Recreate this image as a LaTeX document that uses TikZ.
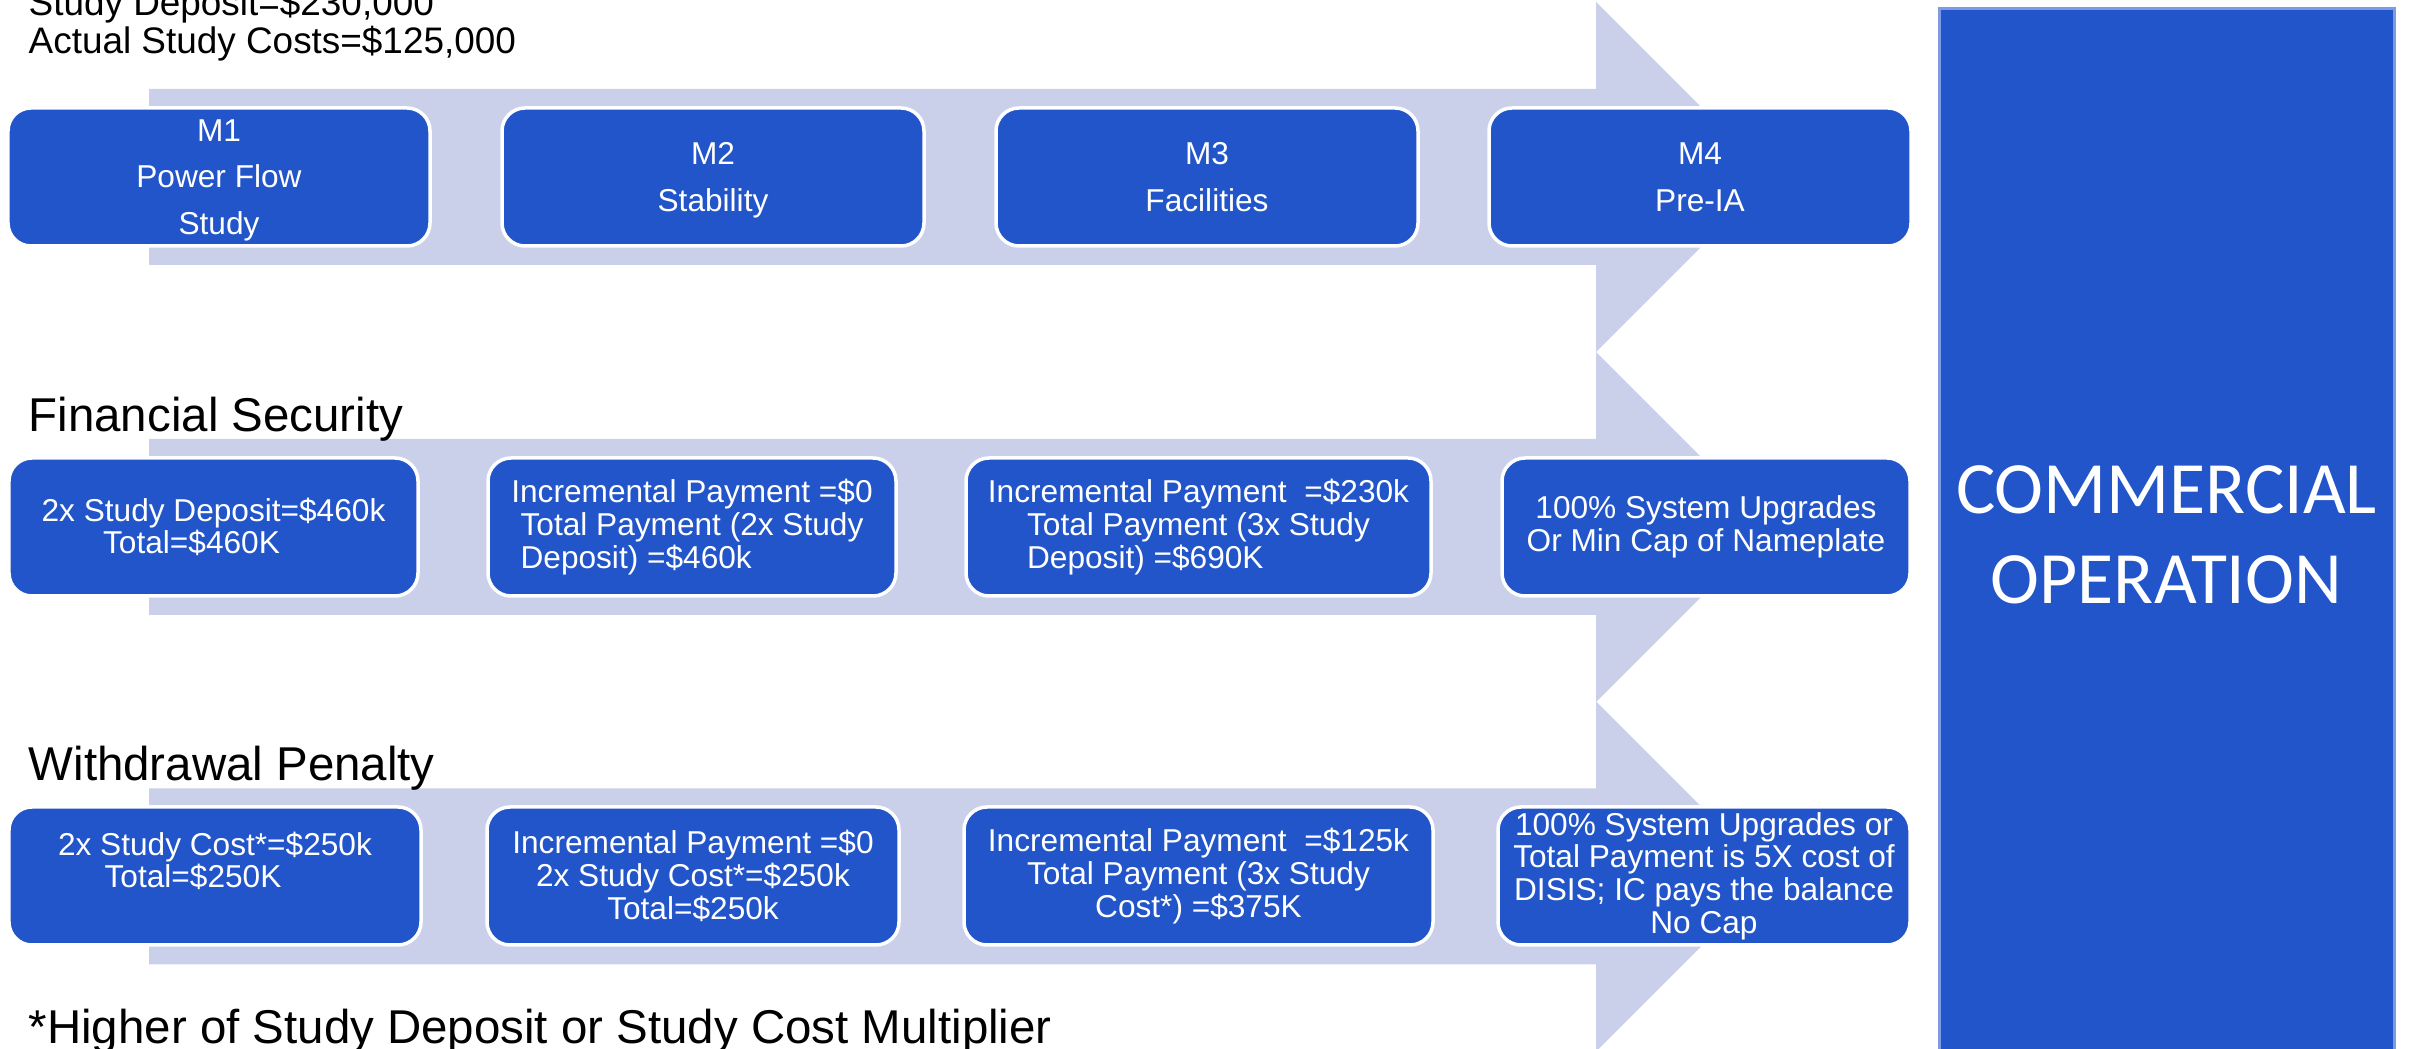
\documentclass[tikz,border=0pt]{standalone}
\usepackage{fontspec}
\setmainfont{Liberation Sans}
\newfontfamily\cofont{Carlito}

\definecolor{boxblue}{RGB}{34,85,201}
\definecolor{arrowbg}{RGB}{203,208,234}
\definecolor{coedge}{RGB}{125,155,228}

\newcommand\mfont{\fontsize{9}{13.2}\selectfont}
\newcommand\pfont{\fontsize{9}{9.3}\selectfont}
\newlength\blkw
\newcommand\blk[2]{#1\\\settowidth\blkw{#1}\makebox[\blkw][l]{#2}}

\tikzset{
  stage/.style={rectangle, rounded corners=2.3mm, fill=boxblue, draw=white,
    line width=0.35mm, text=white, align=center, inner sep=0pt, minimum height=13.8mm},
  note/.style={inner sep=0pt, anchor=base west, font=\fontsize{10.5}{12}\selectfont},
  heading/.style={inner sep=0pt, anchor=base west, font=\fontsize{13.5}{16}\selectfont},
  opbox/.style={rectangle, fill=boxblue, draw=coedge, line width=0.3mm, text=white,
    align=center, anchor=north, minimum width=45.5mm, minimum height=105.2mm,
    font=\cofont\fontsize{21}{25.6}\selectfont}
}

\begin{document}
\begin{tikzpicture}[x=1mm, y=-1mm]
\useasboundingbox (0,0) rectangle (241,104.9);

\foreach \cy in {17.7,52.7,87.65}
  \fill[arrowbg] (14.9,\cy-8.8) -- (159.6,\cy-8.8) -- (159.6,\cy-17.5) -- (177.1,\cy)
    -- (159.6,\cy+17.5) -- (159.6,\cy+8.8) -- (14.9,\cy+8.8) -- cycle;

\node[note] (dep) at (2.8,1.6) {Study Deposit=\$230,000};
\node[note] (cost) at (2.8,5.4) {Actual Study Costs=\$125,000};

\node[stage, font=\mfont, text depth=0pt, minimum width=42.2mm] (m1) at (21.9,17.7) {M1\\Power Flow\\Study};
\node[stage, font=\mfont, text depth=0pt, minimum width=42.2mm] (m2) at (71.3,17.7) {M2\\Stability};
\node[stage, font=\mfont, text depth=0pt, minimum width=42.2mm] (m3) at (120.7,17.7) {M3\\Facilities};
\node[stage, font=\mfont, text depth=0pt, minimum width=42.2mm] (m4) at (170.0,17.7) {M4\\Pre-IA};

\node[heading] (fin) at (2.8,43.2) {Financial Security};

\node[stage, font=\pfont, minimum width=40.9mm] (fs1) at (21.35,52.7)
  {2x Study Deposit=\$460k\\\mbox{Total=\$460K\hspace{4.4mm}}};
\node[stage, font=\pfont, minimum width=40.8mm] (fs2) at (69.2,52.7)
  {Incremental Payment =\$0\\\blk{Total Payment (2x Study}{Deposit) =\$460k}};
\node[stage, font=\pfont, minimum width=46.5mm] (fs3) at (119.85,52.7)
  {Incremental Payment \ =\$230k\\\blk{Total Payment (3x Study}{Deposit) =\$690K}};
\node[stage, font=\pfont, minimum width=40.8mm] (fs4) at (170.6,52.7)
  {100\% System Upgrades\\Or Min Cap of Nameplate};

\node[heading] (wd) at (2.8,78.1) {Withdrawal Penalty};

\node[stage, font=\pfont, minimum width=41.2mm] (wp1) at (21.5,87.6)
  {2x Study Cost*=\$250k\\\mbox{Total=\$250K\hspace{4.4mm}}\\\mbox{}};
\node[stage, font=\pfont, minimum width=41.2mm] (wp2) at (69.3,87.6)
  {Incremental Payment =\$0\\2x Study Cost*=\$250k\\Total=\$250k};
\node[stage, font=\pfont, minimum width=46.9mm] (wp3) at (119.85,87.6)
  {Incremental Payment \ =\$125k\\Total Payment (3x Study\\Cost*) =\$375K};
\node[stage, font=\pfont, minimum width=41.2mm] (wp4) at (170.4,87.6)
  {100\% System Upgrades or\\Total Payment is 5X cost of\\DISIS; IC pays the balance\\No Cap};

\node[heading] (foot) at (2.8,104.4) {*Higher of Study Deposit or Study Cost Multiplier};

\node[opbox] (co) at (216.65,0.7) {COMMERCIAL\\OPERATION};
\end{tikzpicture}
\end{document}
